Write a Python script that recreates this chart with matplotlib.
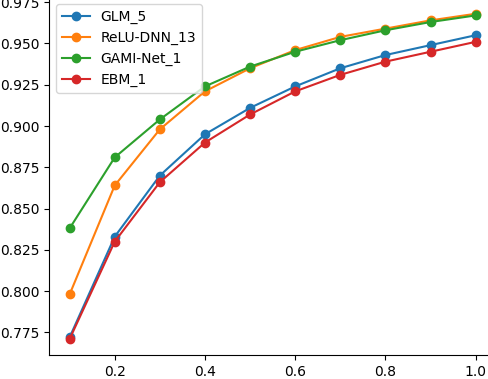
import numpy as np
import matplotlib.pyplot as plt

x = [0.1, 0.2, 0.3, 0.4, 0.5, 0.6, 0.7, 0.8, 0.9, 1.0]

glm_5 = [0.772, 0.833, 0.870, 0.895, 0.911, 0.924, 0.935, 0.943, 0.949, 0.955]
relu_dnn_13 = [0.798, 0.864, 0.898, 0.921, 0.935, 0.946, 0.954, 0.959, 0.964, 0.968]
gami_net_1 = [0.838, 0.881, 0.904, 0.924, 0.936, 0.945, 0.952, 0.958, 0.963, 0.967]
ebm_1 = [0.771, 0.830, 0.866, 0.890, 0.907, 0.921, 0.931, 0.939, 0.945, 0.951]

fig = plt.figure(figsize=(4.88, 3.79), dpi=100)
# the original looks like a crop, so the axes run a bit past the top and right edge
ax = fig.add_axes([49.3 / 488, 23.7 / 379, (496 - 49.3) / 488, (355.3 + 2.5) / 379])

ax.plot(x, glm_5, marker='o', label='GLM_5')
ax.plot(x, relu_dnn_13, marker='o', label='ReLU-DNN_13')
ax.plot(x, gami_net_1, marker='o', label='GAMI-Net_1')
ax.plot(x, ebm_1, marker='o', label='EBM_1')

ax.set_xticks([0.2, 0.4, 0.6, 0.8, 1.0])
ax.spines['top'].set_visible(False)
ax.spines['right'].set_visible(False)
ax.legend(loc='upper left')

fig.savefig('out.png', dpi=100)
